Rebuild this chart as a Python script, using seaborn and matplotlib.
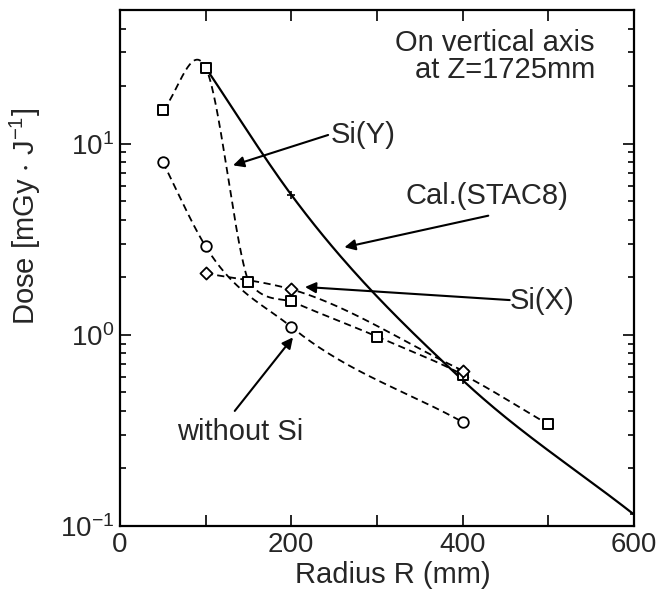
"""
Dose vs radius on the vertical axis at Z=1725mm (log scale)
"""
import numpy as np
import matplotlib
matplotlib.use('Agg')  # Use non-interactive backend
import matplotlib.pyplot as plt
from matplotlib.ticker import MultipleLocator, FuncFormatter, LogLocator
import seaborn as sns

# Data (radius in mm, dose in mGy/J)
without_si_r = [50, 100, 200, 400]
without_si_dose = [8.0, 2.9, 1.1, 0.35]

si_y_r = [50, 100, 150, 200, 300, 400, 500]
si_y_dose = [15.0, 25.0, 1.9, 1.5, 0.98, 0.62, 0.34]

si_x_r = [100, 200, 400]
si_x_dose = [2.1, 1.73, 0.65]

cal_r = [100, 200, 400, 600]
cal_dose = [25.0, 5.4, 0.58, 0.115]


def smooth_log(r, dose, n=60):
    """Hermite curve through the points in log-dose space, tangents limited per segment"""
    r = np.asarray(r, dtype=float)
    ld = np.log10(dose)
    m = np.gradient(ld, r)
    xs, ys = [], []
    t = np.linspace(0, 1, n)
    h00 = 2 * t**3 - 3 * t**2 + 1
    h10 = t**3 - 2 * t**2 + t
    h01 = -2 * t**3 + 3 * t**2
    h11 = t**3 - t**2
    for i in range(len(r) - 1):
        h = r[i + 1] - r[i]
        d = (ld[i + 1] - ld[i]) / h
        m0, m1 = m[i], m[i + 1]
        a, b = m0 / d, m1 / d
        if a * a + b * b > 9:
            tau = 3 / np.sqrt(a * a + b * b)
            m0, m1 = tau * m0, tau * m1
        xs.append(r[i] + t * h)
        ys.append(h00 * ld[i] + h10 * h * m0 + h01 * ld[i + 1] + h11 * h * m1)
    return np.concatenate(xs), 10 ** np.concatenate(ys)


sns.set_style('ticks')
plt.rcParams['font.family'] = ['Liberation Sans', 'DejaVu Sans']
plt.rcParams['mathtext.fontset'] = 'custom'
plt.rcParams['mathtext.rm'] = 'Liberation Sans'
plt.rcParams['mathtext.default'] = 'regular'

fig = plt.figure(figsize=(6.61, 5.96), dpi=100)
ax = fig.add_axes([0.1815, 0.1174, 0.7775, 0.8658])

dash = (0, (4, 2.5))

# Curves
for r, d, ls, lw in [(without_si_r, without_si_dose, dash, 1.3),
                     (si_y_r, si_y_dose, dash, 1.3),
                     (si_x_r, si_x_dose, dash, 1.3),
                     (cal_r, cal_dose, '-', 1.6)]:
    xs, ys = smooth_log(r, d)
    sns.lineplot(x=xs, y=ys, ax=ax, color='black', linewidth=lw,
                 linestyle=ls, sort=False, estimator=None)

# Markers
sns.scatterplot(x=without_si_r, y=without_si_dose, ax=ax, marker='o', s=58,
                color='white', edgecolor='black', linewidth=1.3, zorder=3)
sns.scatterplot(x=si_y_r, y=si_y_dose, ax=ax, marker='s', s=56,
                color='white', edgecolor='black', linewidth=1.4, zorder=3)
sns.scatterplot(x=si_x_r, y=si_x_dose, ax=ax, marker='D', s=38,
                color='white', edgecolor='black', linewidth=1.3, zorder=3)
sns.scatterplot(x=cal_r[1:], y=cal_dose[1:], ax=ax, marker='+', s=40,
                color='black', linewidth=1.2, zorder=4)

# Axes
ax.set_yscale('log')
ax.set_xlim(0, 600)
ax.set_ylim(0.1, 50)
ax.xaxis.set_major_locator(MultipleLocator(100))
ax.xaxis.set_major_formatter(FuncFormatter(lambda v, p: f"{v:.0f}" if v % 200 == 0 else ""))
ax.yaxis.set_major_locator(LogLocator(base=10))
ax.yaxis.set_minor_locator(LogLocator(base=10, subs=np.arange(2, 10)))
ax.yaxis.set_minor_formatter(FuncFormatter(lambda v, p: ""))
ax.tick_params(which='both', direction='in', top=True, right=True,
               labelsize=20, width=1.2, color='black', pad=4)
ax.tick_params(which='major', length=8)
ax.tick_params(which='minor', length=4.5)
for s in ax.spines.values():
    s.set_linewidth(1.6)
    s.set_color('black')

ax.set_xlabel('Radius R (mm)', fontsize=21, labelpad=0)
ax.set_ylabel('Dose [mGy $\\cdot$ J$^{-1}$]', fontsize=21)
ax.xaxis.set_label_coords(0.53, -0.068)
ax.yaxis.set_label_coords(-0.15, 0.6)

# Annotations
arrow = dict(arrowstyle='-|>', color='black', lw=1.5, mutation_scale=16,
             shrinkA=0, shrinkB=0)
ax.text(0.924, 0.936, 'On vertical axis', transform=ax.transAxes,
        ha='right', va='center', fontsize=21)
ax.text(0.924, 0.884, 'at Z=1725mm', transform=ax.transAxes,
        ha='right', va='center', fontsize=21)

ax.text(246, 11.1, 'Si(Y)', ha='left', va='center', fontsize=21)
ax.annotate('', xy=(132, 7.7), xytext=(243, 11.1), arrowprops=arrow)

ax.text(333, 5.3, 'Cal.(STAC8)', ha='left', va='center', fontsize=21)
ax.annotate('', xy=(262, 2.87), xytext=(430, 4.2), arrowprops=arrow)

ax.text(455, 1.5, 'Si(X)', ha='left', va='center', fontsize=21)
ax.annotate('', xy=(216, 1.78), xytext=(455, 1.52), arrowprops=arrow)

ax.text(140, 0.31, 'without Si', ha='center', va='center', fontsize=21)
ax.annotate('', xy=(202, 0.97), xytext=(134, 0.40), arrowprops=arrow)

plt.savefig('out.png', dpi=100)
plt.close()
